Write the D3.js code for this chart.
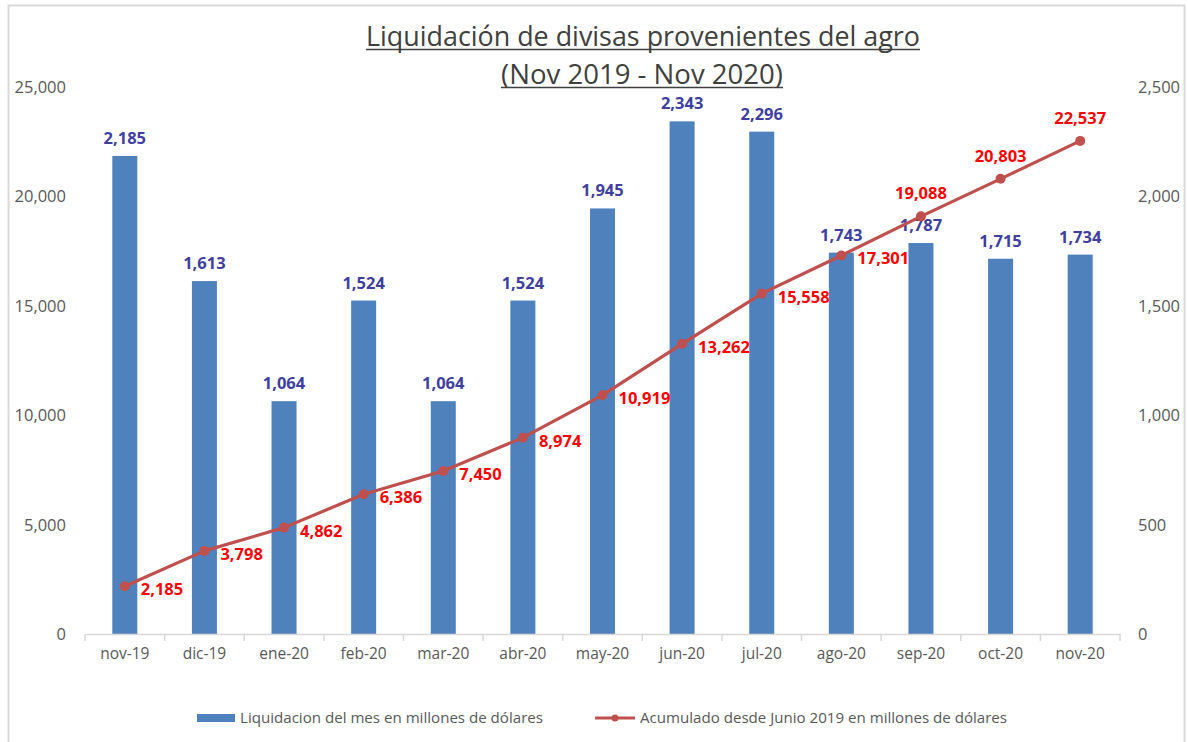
<!DOCTYPE html>
<html><head><meta charset="utf-8">
<script src="https://cdn.jsdelivr.net/npm/d3@7"></script>
<style>
html,body{margin:0;padding:0;background:#fff;}
svg{display:block;font-family:"Liberation Sans Narrow","Open Sans",sans-serif;}
</style></head>
<body>
<svg id="c" width="1188" height="742"></svg>
<script>
const categories = ["nov-19","dic-19","ene-20","feb-20","mar-20","abr-20","may-20","jun-20","jul-20","ago-20","sep-20","oct-20","nov-20"];
const monthly = [2185,1613,1064,1524,1064,1524,1945,2343,2296,1743,1787,1715,1734];
const cumulative = [2185,3798,4862,6386,7450,8974,10919,13262,15558,17301,19088,20803,22537];
// label placement for the cumulative line: "right" or "above"
const cumLabelPos = ["right","right","right","right","right","right","right","right","right","right","above","above","above"];
const leftTicks = [0,5000,10000,15000,20000,25000];
const rightTicks = [0,500,1000,1500,2000,2500];
const titleLines = ["Liquidación de divisas provenientes del agro","(Nov 2019 - Nov 2020)"];
const legendLabels = ["Liquidacion del mes en millones de dólares","Acumulado desde Junio 2019 en millones de dólares"];

const svg = d3.select("#c");
const fmt = d3.format(",");
const pLeft = 85, pRight = 1120, pTop = 87, pBottom = 634;

// outer frame
svg.append("rect").attr("x",8.5).attr("y",5.5).attr("width",1176).attr("height",760)
  .attr("fill","#fff").attr("stroke","#d9d9d9").attr("stroke-width",2);

const x = d3.scaleBand().domain(categories).range([pLeft,pRight]).paddingInner(0).paddingOuter(0);
const yL = d3.scaleLinear().domain([0,25000]).range([pBottom,pTop]);
const yR = d3.scaleLinear().domain([0,2500]).range([pBottom,pTop]);

// title
titleLines.forEach((t,i)=>{
  const w = i===0?554:282, cxx = i===0?643:642, yy = i===0?49.5:87.5;
  svg.append("text").attr("x", cxx).attr("y", i===0?46:84)
    .attr("text-anchor","middle").attr("font-size",27).attr("fill","#404040")
    .attr("font-family","'Liberation Sans Narrow','Open Sans',sans-serif")
    .attr("textLength", w).attr("lengthAdjust","spacingAndGlyphs").text(t);
  svg.append("line").attr("x1",cxx-w/2).attr("x2",cxx+w/2).attr("y1",yy).attr("y2",yy)
    .attr("stroke","#404040").attr("stroke-width",1.3);
});

// left axis labels
svg.append("g").selectAll("text").data(leftTicks).join("text")
  .attr("x",66).attr("y",d=>yL(d)+6).attr("text-anchor","end")
  .attr("font-size",16.5).attr("fill","#595959").attr("font-family","'Open Sans',sans-serif")
  .text(d=>fmt(d));
// right axis labels
svg.append("g").selectAll("text").data(rightTicks).join("text")
  .attr("x",1138).attr("y",d=>yR(d)+6).attr("text-anchor","start")
  .attr("font-size",16.5).attr("fill","#595959").attr("font-family","'Open Sans',sans-serif")
  .text(d=>fmt(d));

// bars
const bw = 25;
svg.append("g").selectAll("rect").data(monthly).join("rect")
  .attr("x",(d,i)=>x(categories[i])+x.bandwidth()/2-bw/2)
  .attr("width",bw)
  .attr("y",d=>yR(d)).attr("height",d=>pBottom-yR(d))
  .attr("fill","#4f81bd");

// x axis line + ticks
const xa = svg.append("g").attr("transform",`translate(0,${pBottom})`)
  .call(d3.axisBottom(x).tickSize(0).tickPadding(14));
xa.select(".domain").attr("stroke","#d9d9d9").attr("stroke-width",1.5);
xa.selectAll("text").attr("font-size",15.5).attr("fill","#595959").attr("font-family","'Open Sans',sans-serif");
const bounds = categories.map(c=>x(c)).concat([pRight]);
svg.append("g").selectAll("line").data(bounds).join("line")
  .attr("x1",d=>d).attr("x2",d=>d).attr("y1",pBottom).attr("y2",pBottom+7)
  .attr("stroke","#d9d9d9").attr("stroke-width",1.5);

// bar labels
svg.append("g").selectAll("text").data(monthly).join("text")
  .attr("x",(d,i)=>x(categories[i])+x.bandwidth()/2)
  .attr("y",d=>yR(d)-12)
  .attr("text-anchor","middle").attr("font-size",16.5).attr("font-weight","bold")
  .attr("fill","#403f9f").attr("font-family","'Open Sans',sans-serif")
  .text(d=>fmt(d));

// line
const cx = i=>x(categories[i])+x.bandwidth()/2;
const line = d3.line().x((d,i)=>cx(i)).y(d=>yL(d));
svg.append("path").datum(cumulative).attr("d",line).attr("fill","none")
  .attr("stroke","#c0504d").attr("stroke-width",3.2).attr("stroke-linejoin","round");
svg.append("g").selectAll("circle").data(cumulative).join("circle")
  .attr("cx",(d,i)=>cx(i)).attr("cy",d=>yL(d)).attr("r",5).attr("fill","#c0504d");

// line labels
svg.append("g").selectAll("text").data(cumulative).join("text")
  .attr("x",(d,i)=>cumLabelPos[i]==="right"? cx(i)+16 : cx(i))
  .attr("y",(d,i)=>cumLabelPos[i]==="right"? yL(d)+9 : yL(d)-17)
  .attr("text-anchor",(d,i)=>cumLabelPos[i]==="right"?"start":"middle")
  .attr("font-size",16.5).attr("font-weight","bold").attr("fill","#ff0000")
  .attr("font-family","'Open Sans',sans-serif")
  .text(d=>fmt(d));

// legend
const lg = svg.append("g");
lg.append("rect").attr("x",197).attr("y",714).attr("width",38).attr("height",8).attr("fill","#4f81bd");
lg.append("text").attr("x",240).attr("y",723).attr("font-size",14.5).attr("fill","#595959")
  .attr("font-family","'Open Sans',sans-serif")
  .attr("textLength",303).attr("lengthAdjust","spacingAndGlyphs").text(legendLabels[0]);
lg.append("line").attr("x1",595).attr("x2",635).attr("y1",718).attr("y2",718)
  .attr("stroke","#c0504d").attr("stroke-width",3.2);
lg.append("circle").attr("cx",615).attr("cy",718).attr("r",3.5).attr("fill","#c0504d");
lg.append("text").attr("x",640).attr("y",723).attr("font-size",14.5).attr("fill","#595959")
  .attr("font-family","'Open Sans',sans-serif")
  .attr("textLength",367).attr("lengthAdjust","spacingAndGlyphs").text(legendLabels[1]);
</script>
</body></html>
